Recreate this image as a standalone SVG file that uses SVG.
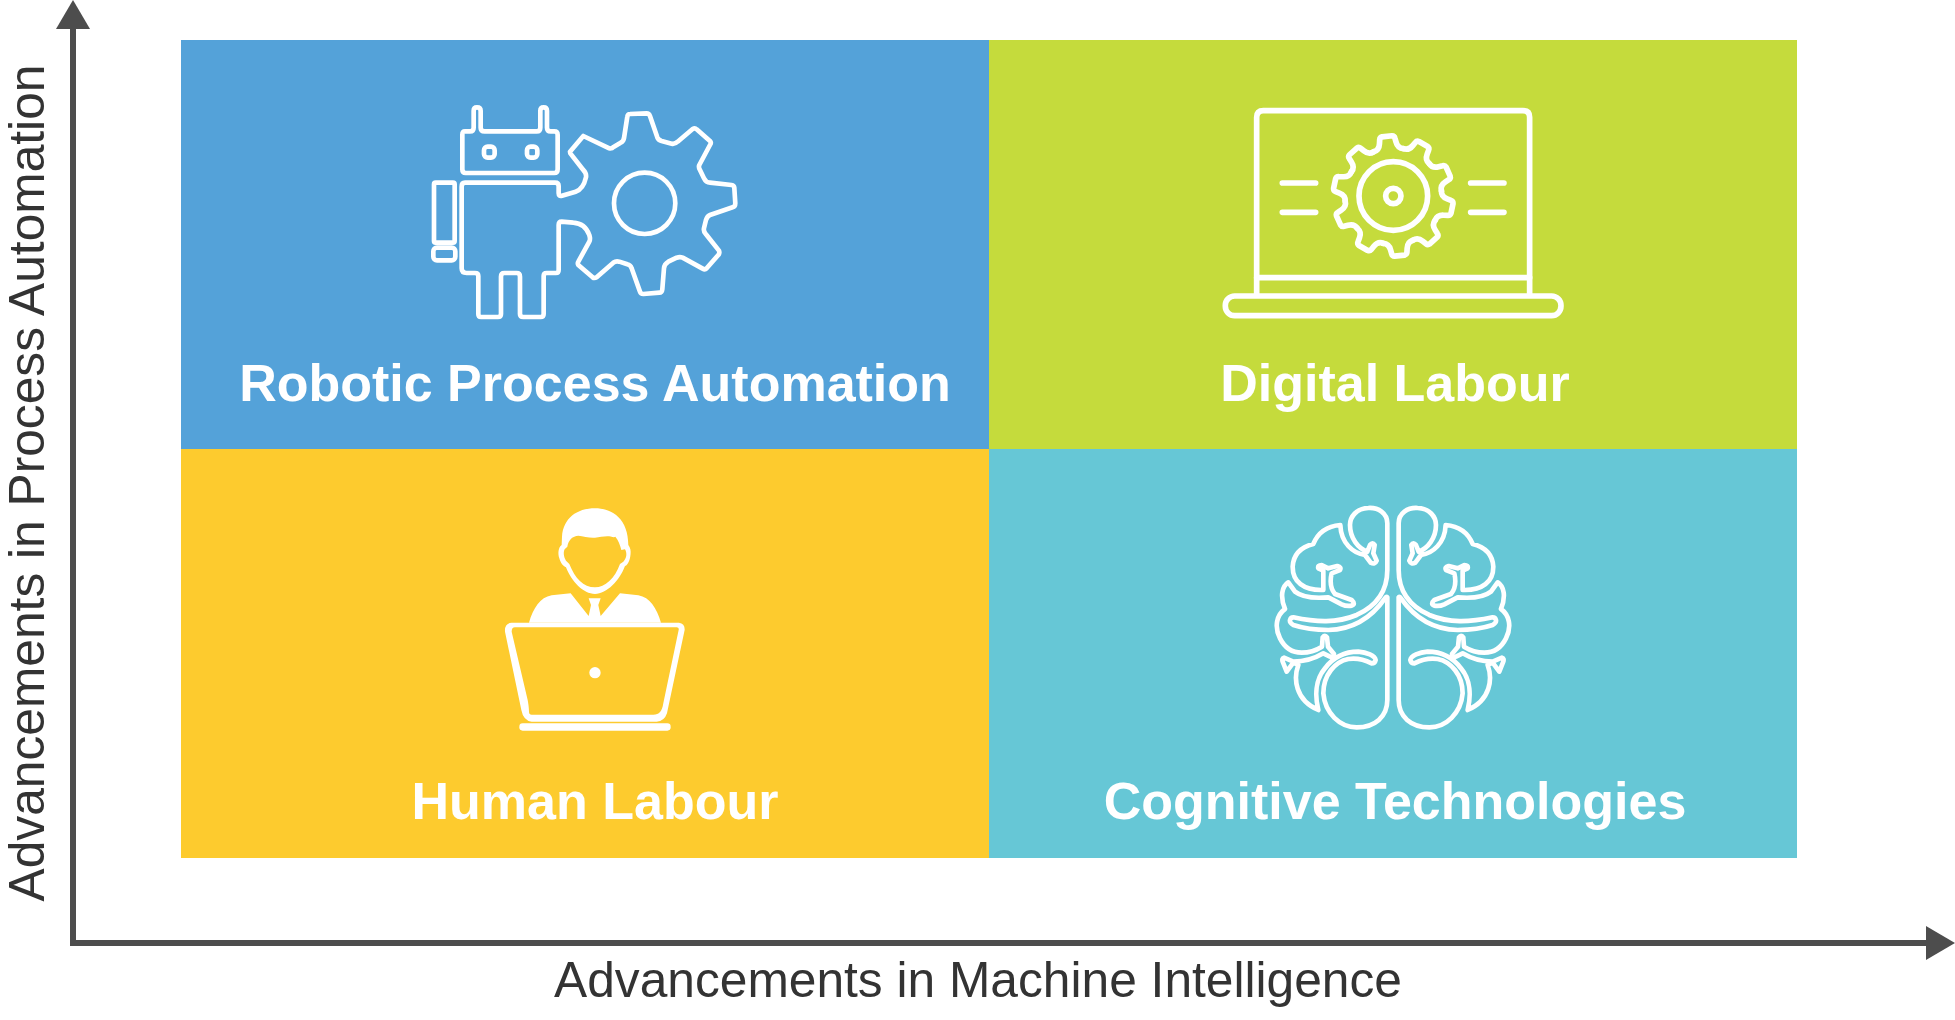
<svg xmlns="http://www.w3.org/2000/svg" xmlns:xlink="http://www.w3.org/1999/xlink" width="1955" height="1020" viewBox="0 0 1955 1020">
<style>
.q{font:bold 52px "Liberation Sans",Arial,sans-serif;fill:#fff;text-anchor:middle}
.ax{font:49.7px "Liberation Sans",Arial,sans-serif;fill:#333;text-anchor:middle}
.ln{fill:none;stroke:#fff;stroke-linejoin:round;stroke-linecap:round}
.axis{stroke:#4d4d4d;stroke-width:6;fill:none}
.head{fill:#4d4d4d}
</style>
<defs>
<path id="tooth" d="M-45-138C-33-140-27-147-25-160L-23-172Q-22-179-15-180L15-180Q22-179 23-172L25-160C27-147 33-140 45-138"/>
<path id="brainhalf" d="M100 382C170 397 230 400 290 375C345 350 382 310 382 240V100C382 70 355 52 325 54C290 55 270 80 270 105C270 145 295 175 322 185L330 165Q338 155 344 165L340 190L350 212Q345 225 332 218L315 195C280 190 243 160 241 105C205 108 175 125 160 162C120 172 100 195 98 230C98 275 130 302 190 300L190 242L175 235Q172 225 185 225L205 235L232 228Q245 232 240 240L215 250C208 280 215 300 225 312L275 330Q288 342 275 347Q260 350 245 343L205 322C170 325 130 325 105 305L85 277C65 290 60 320 75 357C50 375 42 410 60 445C75 475 95 488 125 488C150 488 170 480 186 470L188 442Q195 433 201 442L204 470L222 492Q222 505 210 500L190 490C165 505 130 515 100 515L72 503Q65 505 68 515L80 545L100 518L115 525C100 565 105 630 175 660C165 620 165 570 195 535C225 495 260 485 295 485C320 487 345 497 347 510Q345 520 335 520C315 510 290 503 265 507C225 515 190 555 190 610C195 670 240 712 290 712C345 712 382 680 382 630V322Q380 318 375 325C340 375 290 418 205 420C165 420 130 415 100 405Q88 398 90 390Q92 382 100 382Z"/>
</defs>

<g id="rpa">
<rect x="181" y="40" width="808" height="409" fill="#54a2d9"/>
<g class="ln" stroke-width="14" transform="translate(410 90) scale(.3333)">
<path d="M165 124H180Q191 124 191 113V62Q191 52 201 52Q212 52 212 62V113Q212 124 224 124H380Q391 124 391 113V62Q391 52 401 52Q411 52 411 62V113Q411 124 422 124H433Q443 124 443 134V238Q443 249 433 249H167Q157 249 157 238V134Q157 124 165 124Z"/>
<rect x="222" y="170" width="32" height="33" rx="11"/>
<rect x="351" y="170" width="31" height="33" rx="11"/>
<rect x="72" y="278" width="62" height="180" rx="5"/>
<rect x="70" y="473" width="66" height="38" rx="11"/>
<path d="M165 278H435Q446 278 446 288V310Q446 320 456 317L497 305Q520 298 528 262Q530 250 520 240L481 190L480 185L520 138L598 175Q605 177 612 170L632 158Q640 155 642 145L652 80Q653 72 660 72L710 70Q717 70 720 78L742 142Q745 150 755 153L785 161Q795 163 803 155L848 117Q855 113 860 118L900 153Q905 158 900 165L868 225Q865 232 870 240L882 265Q888 278 900 278L965 285Q972 286 973 293L976 340Q976 350 968 352L900 375Q892 378 888 390L882 415Q880 425 888 433L927 482Q930 490 925 495L890 535Q885 540 878 536L818 503Q810 500 800 503L775 515Q763 522 762 535L757 598Q756 608 748 608L700 612Q692 612 690 605L665 535Q662 525 652 523L628 515Q618 512 610 518L560 562Q553 566 548 562L505 525Q502 520 505 515L538 455Q542 448 538 435Q525 400 490 398L455 395Q446 395 446 405V540Q446 549 438 549H410Q401 549 401 558V672Q401 681 392 681H340Q330 681 330 672V560Q330 549 320 549H283Q273 549 273 560V672Q273 681 264 681H213Q205 681 205 672V558Q205 549 195 549H170Q155 549 155 535V290Q155 278 165 278Z"/>
<circle cx="704" cy="340" r="92"/>
</g>
<text class="q" x="595" y="401">Robotic Process Automation</text>
</g>

<g id="digital">
<rect x="989" y="40" width="808" height="409" fill="#c5db3c"/>
<g class="ln" stroke-width="17" transform="translate(1200 90) scale(.3333)">
<path d="M170 612V82Q170 62 190 62H969Q989 62 989 82V612"/>
<path d="M170 563H989"/>
<rect x="76" y="618" width="1007" height="59" rx="28"/>
<path d="M247 279H347M247 367H347M812 279H912M812 367H912"/>
<circle cx="580" cy="318" r="103"/>
<circle cx="580" cy="318" r="23"/>
<g transform="translate(580 318)">
<use href="#tooth" transform="rotate(-6)"/>
<use href="#tooth" transform="rotate(30)"/>
<use href="#tooth" transform="rotate(66)"/>
<use href="#tooth" transform="rotate(102)"/>
<use href="#tooth" transform="rotate(138)"/>
<use href="#tooth" transform="rotate(174)"/>
<use href="#tooth" transform="rotate(210)"/>
<use href="#tooth" transform="rotate(246)"/>
<use href="#tooth" transform="rotate(282)"/>
<use href="#tooth" transform="rotate(318)"/>
</g>
</g>
<text class="q" x="1395" y="401">Digital Labour</text>
</g>

<g id="human">
<rect x="181" y="449" width="808" height="409" fill="#fdcb2e"/>
<g fill="#fff" fill-rule="evenodd" transform="translate(480 490) scale(.3333)">
<path d="M345 55C290 55 250 85 246 140L245 165C235 172 233 190 238 205C242 220 250 228 258 232C275 275 310 312 345 312C380 312 420 270 435 228C445 225 452 205 452 185C452 175 448 170 445 165C445 90 400 55 345 55ZM262 170C265 150 278 138 295 137C310 138 330 145 345 143C365 140 385 135 402 142L406 140C415 150 420 165 424 180L435 178C442 190 440 205 430 215L420 222C405 265 375 292 345 292C310 292 285 265 268 222L258 212C250 200 250 185 254 178Z"/>
<path d="M147 398C160 355 180 322 215 316L272 310L326 378L333 345L326 325H362L355 345L362 378L420 310L475 316C510 322 530 355 543 398Z"/>
<path d="M95 398H597Q615 400 614 420L561 670Q553 694 530 695H155Q130 692 124 660L75 425Q73 400 95 398ZM105 412Q95 412 95 425L143 630C145 640 147 655 147 665Q147 674 155 674H520C538 674 546 665 550 640L596 420Q598 412 590 412Z"/>
<circle cx="345" cy="548" r="17"/>
<rect x="118" y="700" width="454" height="22" rx="10"/>
</g>
<text class="q" x="595" y="819">Human Labour</text>
</g>

<g id="cognitive">
<rect x="989" y="449" width="808" height="409" fill="#66c7d6"/>
<g class="ln" stroke-width="14" transform="translate(1260 490) scale(.3333)">
<use href="#brainhalf"/>
<use href="#brainhalf" transform="translate(798 0) scale(-1 1)"/>
</g>
<text class="q" x="1395" y="819">Cognitive Technologies</text>
</g>

<g id="connectors">
<path class="axis" d="M73 29V943H1926"/>
<path class="head" d="M73 0L90 29H56Z"/>
<path class="head" d="M1955 943L1926 926V960Z"/>
</g>

<text class="ax" x="978" y="997">Advancements in Machine Intelligence</text>
<text class="ax" transform="translate(44 483) rotate(-90)">Advancements in Process Automation</text>
</svg>
